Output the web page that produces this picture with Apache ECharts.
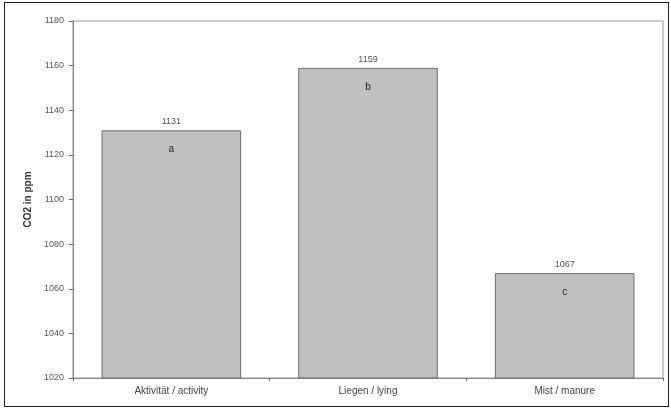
<!DOCTYPE html>
<html><head><meta charset="utf-8">
<script src="https://cdn.jsdelivr.net/npm/echarts@6/dist/echarts.min.js"></script>
<style>html,body{margin:0;padding:0;background:#fff}#c{width:671px;height:412px}
#frame{position:absolute;left:4px;top:2px;width:663px;height:403px;border:1px solid #222;pointer-events:none}</style>
</head><body><div id="c"></div><div id="frame"></div>
<script>
const categories = ['Aktivität / activity', 'Liegen / lying', 'Mist / manure'];
const values = [1131, 1159, 1067];
const letters = ['a', 'b', 'c'];
const yTicks = { min: 1020, max: 1180, interval: 20 };

const chart = echarts.init(document.getElementById('c'));
const font = 'Liberation Sans, Arial, sans-serif';
chart.setOption({
  animation: false,
  grid: { left: 73, right: 8, top: 21, bottom: 34, show: true, borderColor: '#999', borderWidth: 1, backgroundColor: '#fff' },
  xAxis: {
    type: 'category', data: categories,
    axisLine: { lineStyle: { color: '#888' } },
    axisTick: { show: true, length: 3, lineStyle: { color: '#666' } },
    axisLabel: { color: '#444', fontSize: 10, fontFamily: font, margin: 8 }
  },
  yAxis: {
    type: 'value', min: yTicks.min, max: yTicks.max, interval: yTicks.interval,
    name: 'CO2 in ppm', nameLocation: 'middle', nameGap: 38,
    nameTextStyle: { color: '#333', fontSize: 10, fontWeight: 'bold', fontFamily: font },
    axisLine: { show: true, lineStyle: { color: '#888' } },
    axisTick: { show: true, length: 4, lineStyle: { color: '#666' } },
    splitLine: { show: false },
    axisLabel: { color: '#555', fontSize: 9, fontFamily: font, margin: 9, formatter: v => String(v) }
  },
  series: [
    {
      type: 'bar', data: values, barWidth: '71%',
      itemStyle: { color: '#c0c0c0', borderColor: '#6e6e6e', borderWidth: 1 },
      label: { show: true, position: 'top', distance: 4, color: '#555', fontSize: 9, fontFamily: font }
    },
    {
      type: 'bar', data: values, barWidth: '71%', barGap: '-100%',
      itemStyle: { color: 'rgba(0,0,0,0)' },
      label: { show: true, position: 'insideTop', distance: 14, color: '#222', fontSize: 10, fontFamily: font,
        formatter: p => letters[p.dataIndex] }
    }
  ]
});
</script></body></html>
